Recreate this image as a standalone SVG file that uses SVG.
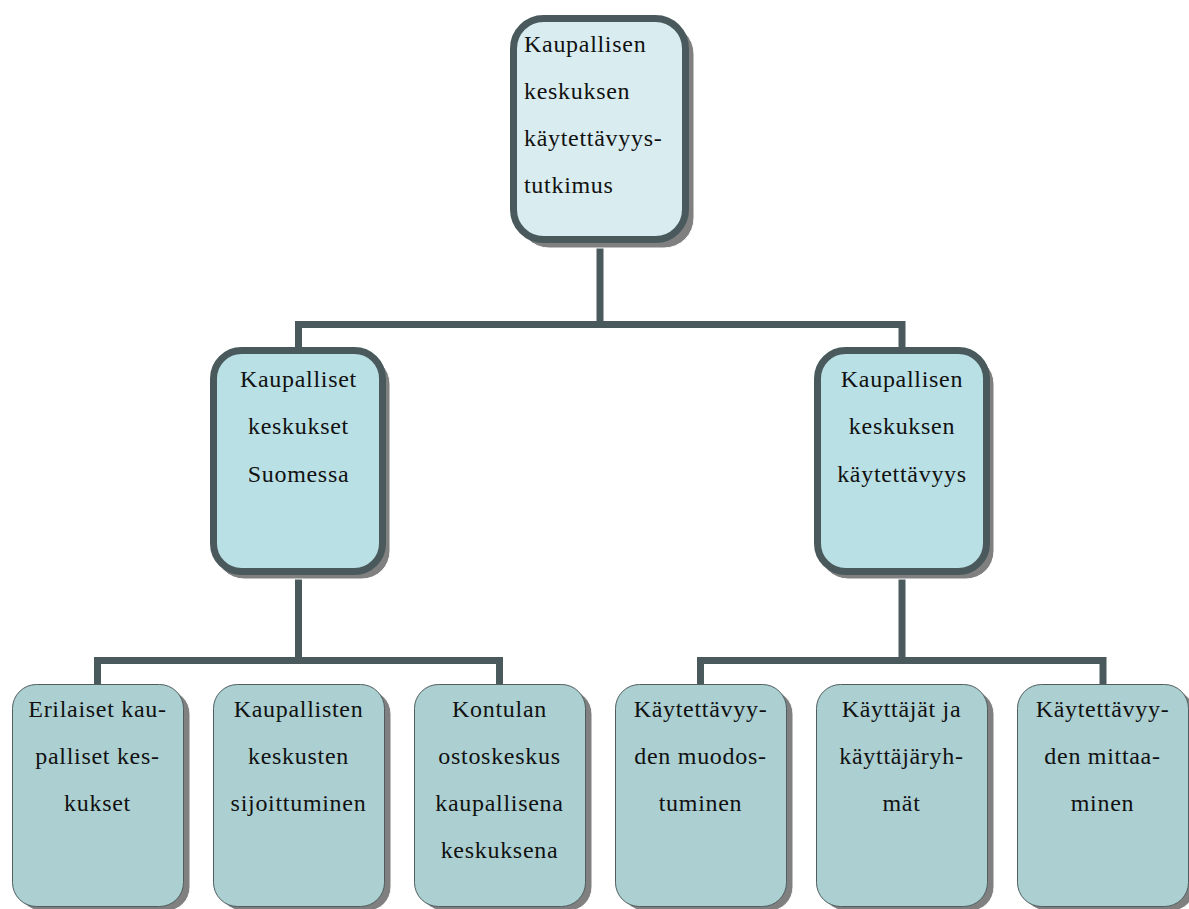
<svg xmlns="http://www.w3.org/2000/svg" width="1189" height="909" viewBox="0 0 1189 909">
<style>
.t{font-family:"Liberation Serif","Times New Roman",serif;font-size:24px;fill:#111;letter-spacing:0.7px}
.c{text-anchor:middle}
.sh{fill:#808080;stroke:#fff;stroke-width:1}
.b1{fill:#d9edf0;stroke:#4a5a5c;stroke-width:7}
.b2{fill:#b9e0e5;stroke:#4a5a5c;stroke-width:7}
.b3{fill:#acd0d2;stroke:#4f5d5e;stroke-width:1}
.ln{fill:none;stroke:#4a5a5c;stroke-width:7;stroke-linejoin:miter}
</style>
<rect width="1189" height="909" fill="#fff"/>
<g id="connectors">
<polyline class="ln" points="600,243 600,324.5 298.5,324.5 298.5,350"/>
<polyline class="ln" points="600,324.5 902,324.5 902,350"/>
<polyline class="ln" points="298.5,575 298.5,660.5 97.5,660.5 97.5,685"/>
<polyline class="ln" points="298.5,660.5 499.5,660.5 499.5,685"/>
<polyline class="ln" points="902,575 902,660.5 700.5,660.5 700.5,685"/>
<polyline class="ln" points="902,660.5 1103,660.5 1103,685"/>
</g>
<g id="n0">
<rect class="sh" x="519" y="24" width="175" height="224" rx="30"/>
<rect class="b1" x="513.5" y="18.5" width="172" height="221" rx="30"/>
<text class="t" x="524" y="52">Kaupallisen</text>
<text class="t" x="524" y="99">keskuksen</text>
<text class="t" x="524" y="146">käytettävyys-</text>
<text class="t" x="524" y="193">tutkimus</text>
</g>
<g id="n1">
<rect class="sh" x="216" y="356" width="174" height="223" rx="28"/>
<rect class="b2" x="213.5" y="350.5" width="169" height="221" rx="28"/>
<text class="t c" x="298.5" y="387">Kaupalliset</text>
<text class="t c" x="298.5" y="434">keskukset</text>
<text class="t c" x="298.5" y="482">Suomessa</text>
</g>
<g id="n2">
<rect class="sh" x="820" y="356" width="174" height="223" rx="28"/>
<rect class="b2" x="817.5" y="350.5" width="169" height="221" rx="28"/>
<text class="t c" x="902" y="387">Kaupallisen</text>
<text class="t c" x="902" y="434">keskuksen</text>
<text class="t c" x="902" y="482">käytettävyys</text>
</g>
<g id="n3">
<rect class="sh" x="18" y="690" width="172" height="221" rx="24"/>
<rect class="b3" x="12.5" y="684.5" width="171" height="222" rx="24"/>
<text class="t c" x="97.5" y="717">Erilaiset kau-</text>
<text class="t c" x="97.5" y="764">palliset kes-</text>
<text class="t c" x="97.5" y="811">kukset</text>
</g>
<g id="n4">
<rect class="sh" x="219" y="690" width="172" height="221" rx="24"/>
<rect class="b3" x="213.5" y="684.5" width="171" height="222" rx="24"/>
<text class="t c" x="298.5" y="717">Kaupallisten</text>
<text class="t c" x="298.5" y="764">keskusten</text>
<text class="t c" x="298.5" y="811">sijoittuminen</text>
</g>
<g id="n5">
<rect class="sh" x="420" y="690" width="172" height="221" rx="24"/>
<rect class="b3" x="414.5" y="684.5" width="171" height="222" rx="24"/>
<text class="t c" x="499.5" y="717">Kontulan</text>
<text class="t c" x="499.5" y="764">ostoskeskus</text>
<text class="t c" x="499.5" y="811">kaupallisena</text>
<text class="t c" x="499.5" y="858">keskuksena</text>
</g>
<g id="n6">
<rect class="sh" x="621" y="690" width="172" height="221" rx="24"/>
<rect class="b3" x="615.5" y="684.5" width="171" height="222" rx="24"/>
<text class="t c" x="700.5" y="717">Käytettävyy-</text>
<text class="t c" x="700.5" y="764">den muodos-</text>
<text class="t c" x="700.5" y="811">tuminen</text>
</g>
<g id="n7">
<rect class="sh" x="822" y="690" width="172" height="221" rx="24"/>
<rect class="b3" x="816.5" y="684.5" width="171" height="222" rx="24"/>
<text class="t c" x="901.5" y="717">Käyttäjät ja</text>
<text class="t c" x="901.5" y="764">käyttäjäryh-</text>
<text class="t c" x="901.5" y="811">mät</text>
</g>
<g id="n8">
<rect class="sh" x="1023" y="690" width="172" height="221" rx="24"/>
<rect class="b3" x="1017.5" y="684.5" width="171" height="222" rx="24"/>
<text class="t c" x="1102.5" y="717">Käytettävyy-</text>
<text class="t c" x="1102.5" y="764">den mittaa-</text>
<text class="t c" x="1102.5" y="811">minen</text>
</g>
</svg>
